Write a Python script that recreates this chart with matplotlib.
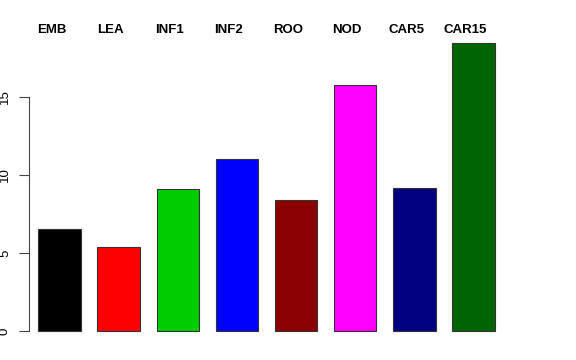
import matplotlib
matplotlib.use("Agg")
import matplotlib.pyplot as plt
from matplotlib.transforms import blended_transform_factory

categories = ["EMB", "LEA", "INF1", "INF2", "ROO", "NOD", "CAR5", "CAR15"]
values = [6.55, 5.38, 9.12, 11.02, 8.42, 15.75, 9.15, 18.45]
colors = ["#000000", "#FF0000", "#00CD00", "#0000FF", "#8B0000", "#FF00FF", "#000080", "#006400"]

W, H = 576, 360
plt.rcParams["font.family"] = ["Liberation Sans", "DejaVu Sans"]

fig = plt.figure(figsize=(W / 100, H / 100), dpi=100)
ax = fig.add_axes([20 / W, 1 - 342.5 / H, 493 / W, 311 / H])

# R-style barplot positions: width 1, space 0.4
centers = [0.9 + 1.4 * i for i in range(len(values))]
ax.bar(centers, values, width=1.0, color=colors, edgecolor="#333333", linewidth=0.8)

xmin, xmax = 0.4, 0.4 + 1.4 * len(values) - 0.4
pad = 0.04 * (xmax - xmin)
ax.set_xlim(xmin - pad, xmax + pad)
ymax = max(values)
ax.set_ylim(-0.04 * ymax, ymax * 1.04)

for s in ["top", "right", "bottom"]:
    ax.spines[s].set_visible(False)
ax.spines["left"].set_bounds(0, 15)
ax.spines["left"].set_position(("axes", 9 / 493))
ax.spines["left"].set_color("#444444")
ax.set_yticks([0, 5, 10, 15])
ax.set_yticklabels(["0", "5", "10", "15"], rotation=90, va="center", fontsize=9.5)
ax.tick_params(axis="y", length=7, pad=6, width=0.8, color="#444444")
ax.set_xticks([])

# category names above the bars, slightly left of each bar centre
trans = blended_transform_factory(ax.transData, fig.transFigure)
for name, c in zip(categories, centers):
    ax.text(c - 0.19, 1 - 30 / H, name, ha="center", va="center",
            fontsize=9.5, fontweight="bold", transform=trans, clip_on=False)

fig.savefig("out.png", dpi=100)
